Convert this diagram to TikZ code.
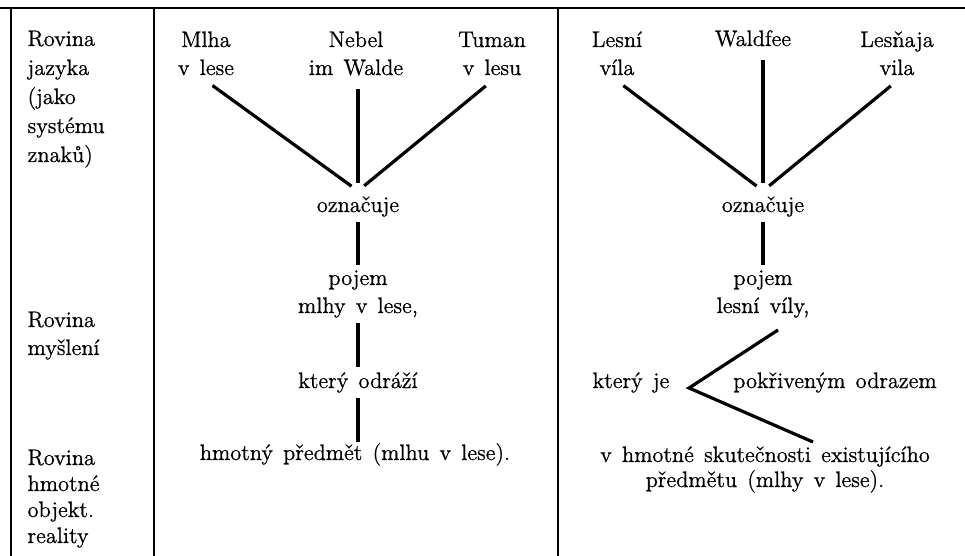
\documentclass[tikz,border=0pt]{standalone}
\usepackage{fontspec}
\setmainfont{Latin Modern Roman}[WordSpace=1.4, RawFeature={embolden=0.8}]
\usetikzlibrary{positioning}

\begin{document}
\begin{tikzpicture}[x=0.5pt, y=-0.5pt, line width=1.6pt,
  txt/.style={inner sep=2pt, anchor=base, align=center,
    font=\fontsize{11.2}{14}\selectfont},
  lev/.style={txt, anchor=base west, align=left},
  frame/.style={line width=1.4pt},
  link/.style={shorten <=4pt, shorten >=4pt}]
\useasboundingbox (0,0) rectangle (965,556);

% table frame
\draw[frame] (0,8)--(965,8);
\draw[frame] (11,8)--(11,556);
\draw[frame] (154,8)--(154,556);
\draw[frame] (558,8)--(558,556);

% levels (base = last line)
\node[lev, font=\fontsize{11.2}{14.5}\selectfont] (lev1) at (22,162) {Rovina\\jazyka\\(jako\\systému\\znaků)};
\node[lev] (lev2) at (22,355) {Rovina\\myšlení};
\node[lev, font=\fontsize{11.2}{13}\selectfont] (lev3) at (22,543) {Rovina\\hmotné\\objekt.\\reality};

% mlha v lese
\node[txt] (mlha) at (206,75) {Mlha\\v lese};
\node[txt] (nebel) at (356,75) {Nebel\\im Walde};
\node[txt] (tuman) at (492,75) {Tuman\\v lesu};
\node[txt] (ozn1) at (358,212) {označuje};
\node[txt] (pojem1) at (358,313) {pojem\\mlhy v lese,};
\node[txt] (odrazi) at (358,388) {který odráží};
\node[txt] (predmet) at (355,460) {hmotný předmět (mlhu v lese).};

\draw[link] (mlha.south)--(ozn1.north);
\draw[link] (nebel.south -| ozn1.north)--(ozn1.north);
\draw[link] (tuman.south)--(ozn1.north);
\draw (ozn1)--(pojem1);
\draw (pojem1)--(odrazi);
\draw[shorten >=-2pt] (odrazi)--(predmet.north -| odrazi);

% lesni vila
\node[txt] (lesni) at (617,75) {Lesní\\víla};
\node[txt] (waldfee) at (753,46) {Waldfee};
\node[txt] (lesnaja) at (897,75) {Lesňaja\\vila};
\node[txt] (ozn2) at (763,212) {označuje};
\node[txt] (pojem2) at (763,313) {pojem\\lesní víly,};
\node[txt] (jeje) at (631,388) {který je};
\node[txt] (pokriv) at (835,388) {pokřiveným odrazem};
\node[txt, font=\fontsize{11.2}{12.5}\selectfont] (skut) at (765,487) {v hmotné skutečnosti existujícího\\předmětu (mlhy v lese).};

\draw[link] (lesni.south)--(ozn2.north);
\draw[link] (waldfee.south -| ozn2.north)--(ozn2.north);
\draw[link] (lesnaja.south)--(ozn2.north);
\draw (ozn2)--(pojem2);

\coordinate (kink) at (689,388);
\coordinate (odr1) at (778,330);
\coordinate (odr2) at (813,442);
\draw (odr1)--(kink)--(odr2);

\end{tikzpicture}
\end{document}
